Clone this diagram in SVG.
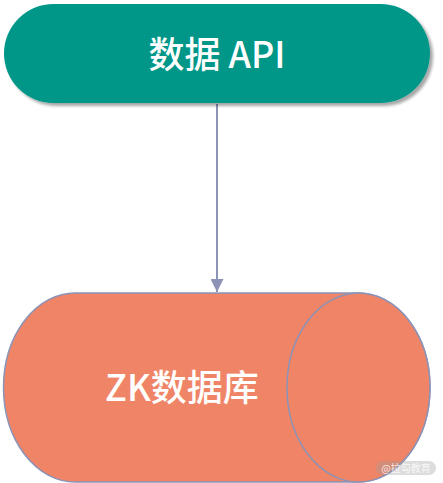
<svg xmlns="http://www.w3.org/2000/svg" width="443" height="483" viewBox="0 0 443 483">
<defs>
<style>
.lbl{font-family:"Noto Sans CJK SC","Noto Sans",sans-serif;font-weight:500;fill:#ffffff;text-anchor:middle}
.edge{stroke:#8c93b6;stroke-width:2;fill:none}
.db{fill:#ef8466;stroke:#8c93b6;stroke-width:1.5}
</style>
<marker id="arr" markerWidth="14" markerHeight="13" refX="13" refY="6.5" orient="auto" markerUnits="userSpaceOnUse">
<path d="M0,0 L13,6.5 L0,13 Z" fill="#8c93b6"/>
</marker>
<filter id="sh" x="-5%" y="-10%" width="115%" height="130%">
<feGaussianBlur in="SourceAlpha" stdDeviation="1.5"/>
<feOffset dx="3" dy="3" result="b"/>
<feComponentTransfer><feFuncA type="linear" slope="0.35"/></feComponentTransfer>
<feMerge><feMergeNode/><feMergeNode in="SourceGraphic"/></feMerge>
</filter>
</defs>
<rect width="443" height="483" fill="#ffffff"/>
<g id="connectors">
<line class="edge" x1="217" y1="104" x2="217" y2="292" marker-end="url(#arr)"/>
</g>
<g id="api">
<rect x="4" y="4" width="426" height="99" rx="49.5" ry="49.5" fill="#009688" filter="url(#sh)"/>
<text class="lbl" x="217" y="68" font-size="36">数据 API</text>
</g>
<g id="zkdb">
<path class="db" d="M75,293 L358.5,293 A71.5,94.5 0 0 1 358.5,482 L75,482 A71.5,94.5 0 0 1 75,293 Z"/>
<ellipse class="db" cx="358.5" cy="387.5" rx="71.5" ry="94.5"/>
<text class="lbl" x="182" y="401" font-size="36">ZK数据库</text>
</g>
<g id="watermark">
<rect x="376" y="461" width="60" height="14" rx="7" fill="#9e9e9e" fill-opacity="0.35"/>
<text x="406" y="472" font-size="10" font-family="Noto Sans CJK SC,sans-serif" fill="#ffffff" fill-opacity="0.8" text-anchor="middle">@拉勾教育</text>
</g>
</svg>
